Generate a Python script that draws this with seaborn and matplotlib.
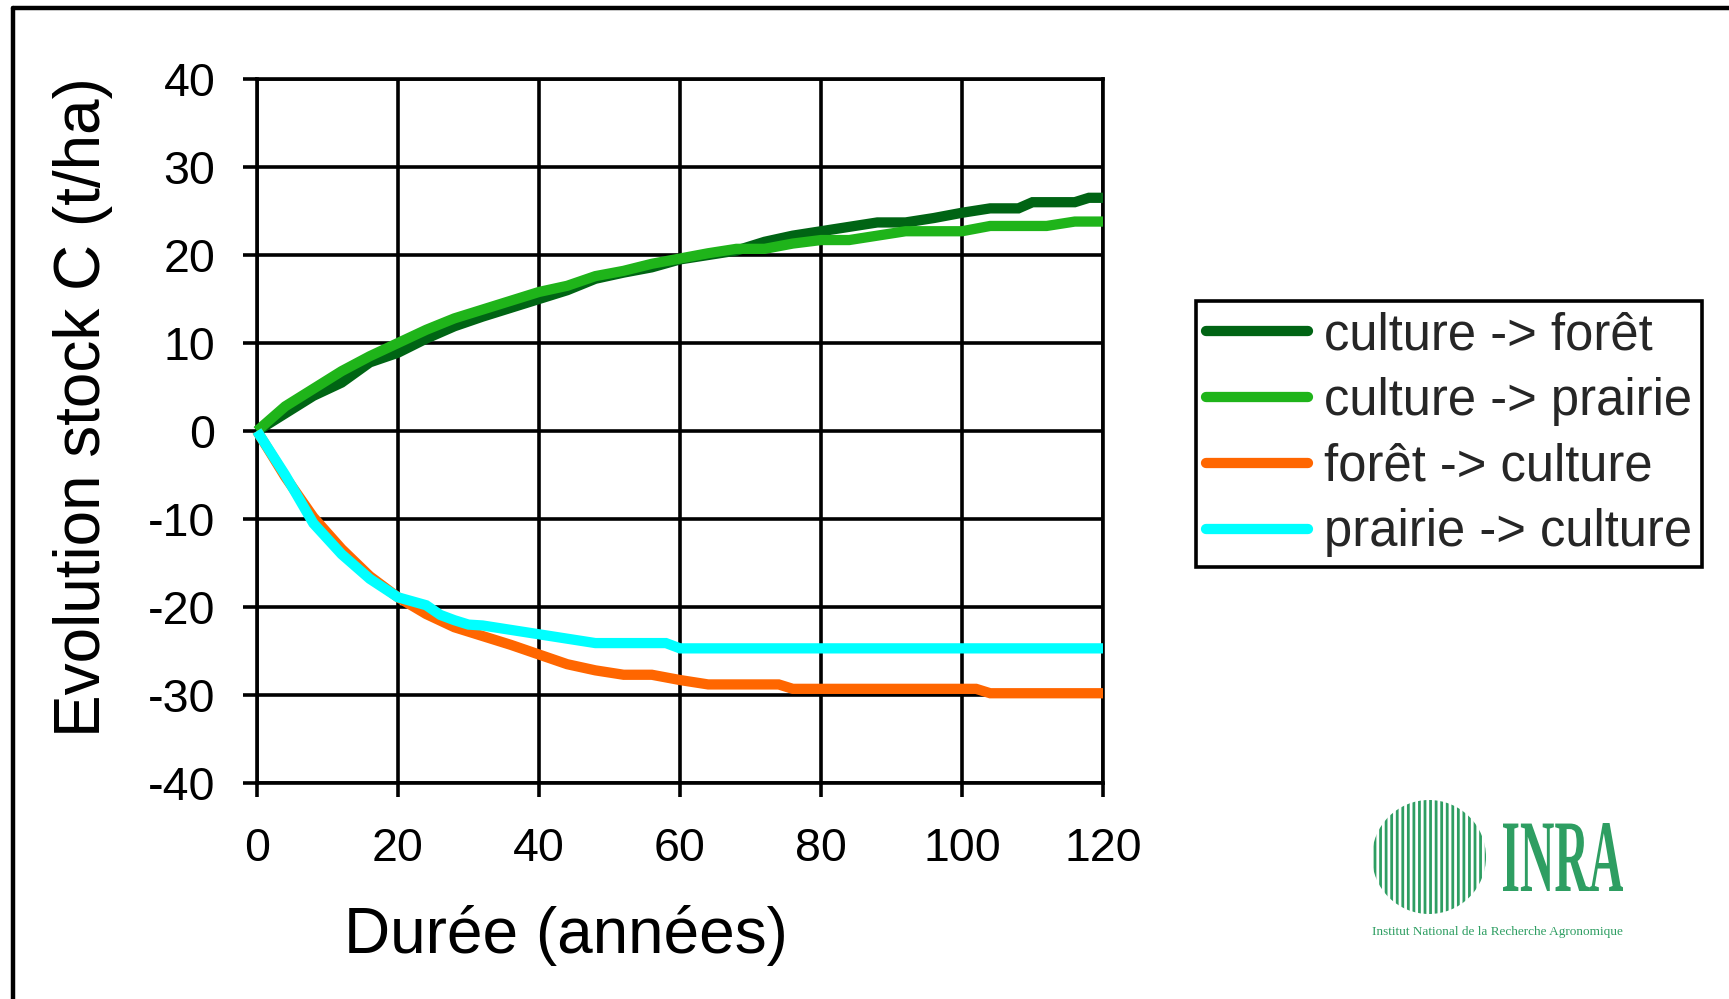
import numpy as np
import pandas as pd
import matplotlib
matplotlib.use("Agg")
import matplotlib.pyplot as plt
import seaborn as sns
from matplotlib.lines import Line2D
from matplotlib.patches import Circle, PathPatch
from matplotlib.textpath import TextPath
from matplotlib.font_manager import FontProperties
from matplotlib.transforms import Affine2D

# ---------------- data ----------------
series_names = ["culture -> forêt", "culture -> prairie", "forêt -> culture", "prairie -> culture"]

cf_x = [0, 4, 8, 12, 16, 20, 24, 28, 32, 36, 40, 44, 48, 52, 56, 60, 64, 68, 72, 76, 80, 84, 88, 92, 96, 100, 104, 108, 110, 116, 118, 120]
cf_y = [0, 2.0, 4.0, 5.5, 7.8, 8.9, 10.5, 11.9, 13.0, 14.0, 15.0, 16.0, 17.3, 18.0, 18.6, 19.5, 20.0, 20.5, 21.5, 22.2, 22.7, 23.2, 23.7, 23.7, 24.2, 24.8, 25.3, 25.3, 26.0, 26.0, 26.5, 26.5]

cp_x = [0, 4, 8, 12, 16, 20, 24, 28, 32, 36, 40, 44, 48, 52, 56, 60, 64, 68, 72, 76, 80, 84, 88, 92, 100, 104, 112, 116, 120]
cp_y = [0, 2.8, 4.8, 6.8, 8.5, 10.0, 11.5, 12.8, 13.8, 14.8, 15.8, 16.5, 17.6, 18.2, 19.0, 19.6, 20.2, 20.7, 20.7, 21.3, 21.7, 21.7, 22.2, 22.7, 22.7, 23.3, 23.3, 23.8, 23.8]

fc_x = [0, 4, 8, 12, 16, 20, 24, 28, 32, 36, 40, 44, 48, 52, 56, 60, 64, 74, 76, 102, 104, 120]
fc_y = [0, -5.2, -9.8, -13.4, -16.5, -18.9, -20.8, -22.3, -23.3, -24.3, -25.4, -26.5, -27.2, -27.7, -27.7, -28.3, -28.8, -28.8, -29.3, -29.3, -29.8, -29.8]

pc_x = [0, 4, 8, 12, 16, 20, 24, 26, 28, 30, 32, 40, 48, 58, 60, 120]
pc_y = [0, -5.0, -10.5, -14.0, -16.8, -18.9, -19.8, -20.9, -21.5, -22.0, -22.1, -23.1, -24.1, -24.1, -24.7, -24.7]

x_ticks = [0, 20, 40, 60, 80, 100, 120]
y_ticks = [-40, -30, -20, -10, 0, 10, 20, 30, 40]
x_label = "Durée (années)"
y_label = "Evolution stock C (t/ha)"

colors = ["#006414", "#1FB41A", "#FF6600", "#00FFFF"]

df = pd.concat([
    pd.DataFrame({"x": cf_x, "y": cf_y, "s": series_names[0]}),
    pd.DataFrame({"x": cp_x, "y": cp_y, "s": series_names[1]}),
    pd.DataFrame({"x": fc_x, "y": fc_y, "s": series_names[2]}),
    pd.DataFrame({"x": pc_x, "y": pc_y, "s": series_names[3]}),
], ignore_index=True)

# ---------------- figure ----------------
sns.set_theme(style="white")
plt.rcParams["font.family"] = ["Liberation Sans", "DejaVu Sans"]
plt.rcParams["axes.unicode_minus"] = False

W, H = 1729, 999
fig = plt.figure(figsize=(W / 100, H / 100), dpi=100)
fig.patch.set_facecolor("white")

def fx(px):
    return px / W

def fy(py):
    return 1 - py / H

L, R, T, B = 257, 1103, 79, 783
ax = fig.add_axes([fx(L), fy(B), fx(R - L), (B - T) / H])

lw = 7.4
sns.lineplot(data=df, x="x", y="y", hue="s", hue_order=series_names,
             palette=colors, linewidth=lw, sort=False, estimator=None,
             legend=False, ax=ax, zorder=3)
for ln in ax.get_lines():
    ln.set_solid_joinstyle("miter")
    ln.set_solid_capstyle("butt")
    ln.set_clip_on(False)

ax.set_xlim(0, 120)
ax.set_ylim(-40, 40)
ax.set_xticks(x_ticks)
ax.set_yticks(y_ticks)
ax.grid(True, color="black", linewidth=2.6, zorder=1)
ax.set_axisbelow(True)
for sp in ax.spines.values():
    sp.set_color("black")
    sp.set_linewidth(2.6)
    sp.set_zorder(2)
ax.tick_params(axis="both", direction="out", length=10, width=2.6, color="black",
               labelsize=33.5, labelcolor="black")
ax.tick_params(axis="y", pad=20, left=True)
ax.tick_params(axis="x", pad=22, bottom=True)
ax.set_xlabel("")
ax.set_ylabel("")

fig.text(fx(83), fy(407), y_label, rotation=90, ha="center", va="center",
         fontsize=46, color="black")
fig.text(fx(566), fy(935), x_label, ha="center", va="center",
         fontsize=46, color="black")

# legend
handles = [Line2D([0], [0], color=c, linewidth=lw, solid_capstyle="round") for c in colors]
leg = fig.legend(handles, series_names, loc="upper left",
                 bbox_to_anchor=(fx(1196), fy(301)), bbox_transform=fig.transFigure,
                 fontsize=36.5, frameon=True, fancybox=False, framealpha=1,
                 handlelength=2.0, handletextpad=0.32, labelspacing=0.33,
                 borderpad=0.2, borderaxespad=0)
leg.get_frame().set_edgecolor("black")
leg.get_frame().set_linewidth(2.6)

# outer frame (top and left visible)
fig.add_artist(Line2D([fx(13), 1.0], [fy(8), fy(8)], color="black", linewidth=3.2,
                      transform=fig.transFigure))
fig.add_artist(Line2D([fx(13), fx(13)], [fy(8), 0.0], color="black", linewidth=3.2,
                      transform=fig.transFigure))

# INRA logo
logo_green = "#2E9E62"
lx0, ly0, lx1, ly1 = 1367, 792, 1630, 945
lax = fig.add_axes([fx(lx0), fy(ly1), fx(lx1 - lx0), (ly1 - ly0) / H])
lax.set_xlim(lx0, lx1)
lax.set_ylim(ly1, ly0)
lax.axis("off")
plt.rcParams["hatch.linewidth"] = 2.0
circ = Circle((1429, 857), 57, facecolor="white", edgecolor=logo_green,
              hatch="|||", linewidth=0)
lax.add_patch(circ)
fp = FontProperties(family="Liberation Serif", weight="bold")
tp = TextPath((0, 0), "INRA", prop=fp, size=100)
bb = tp.get_extents()
bx0, by0, bx1, by1 = 1503, 823, 1623, 891
sx = (bx1 - bx0) / bb.width
sy = (by1 - by0) / bb.height
tr = Affine2D().translate(-bb.x0, -bb.y0).scale(sx, -sy).translate(bx0, by1)
lax.add_patch(PathPatch(tr.transform_path(tp), facecolor=logo_green, edgecolor="none"))
lax.text(1497, 932, "Institut National de la Recherche Agronomique", ha="center",
         va="center", fontsize=9.5, color=logo_green, family="Liberation Serif")

fig.savefig("out.png", dpi=100)
